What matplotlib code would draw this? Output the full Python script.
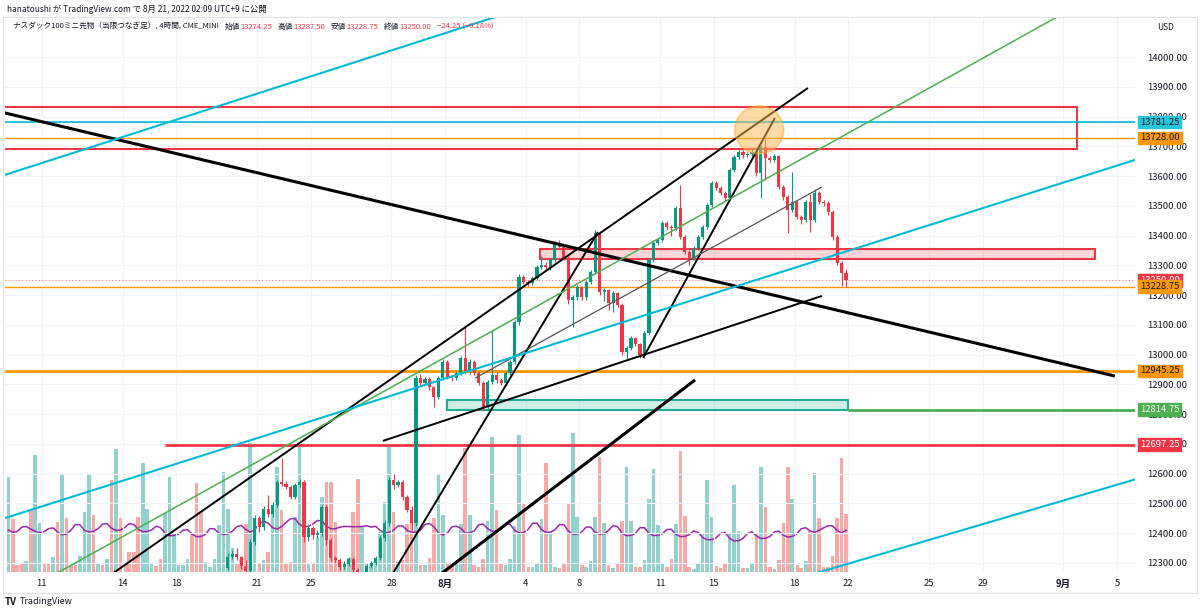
import numpy as np
import pandas as pd
import matplotlib
matplotlib.use("Agg")
import matplotlib.pyplot as plt
from matplotlib.patches import Rectangle, Ellipse

plt.rcParams['font.family'] = ['Noto Sans CJK JP', 'DejaVu Sans']

# ナスダック100ミニ先物 4時間足 (bar index 0 = 7/7)
opens = [12010, 12060, 12030, 12020, 12005, 12015, 11950, 11990, 12010, 11990,
         11980, 11985, 11920, 11940, 11880, 11870, 11860, 11870, 11900, 11950,
         11860, 11870, 11860, 11870, 11700, 11800, 11760, 11750, 11720, 11680,
         11600, 11700, 11760, 11770, 11760, 11740, 11800, 11900, 11960, 11970,
         11980, 11990, 11970, 11940, 11920, 11930, 11950, 11980, 12100, 12283,
         12320, 12330, 12320, 12290, 12272, 12370, 12450, 12420, 12480, 12465,
         12495, 12572, 12566, 12556, 12522, 12562, 12572, 12387, 12418, 12394,
         12400, 12488, 12377, 12317, 12310, 12286, 12297, 12313, 12276, 12240,
         12255, 12290, 12300, 12317, 12384, 12434, 12579, 12562, 12572, 12522,
         12478, 12434, 12921, 12905, 12918, 12891, 12858, 12921, 12975, 12925,
         12921, 12938, 12988, 12942, 12975, 12938, 12905, 12824, 12908, 12932,
         12915, 12905, 12938, 12975, 13110, 13261, 13244, 13240, 13257, 13294,
         13301, 13294, 13318, 13375, 13362, 13325, 13184, 13194, 13227, 13193,
         13244, 13278, 13408, 13210, 13217, 13173, 13207, 13167, 13009, 13022,
         13056, 13035, 12999, 13073, 13318, 13375, 13385, 13442, 13429, 13425,
         13493, 13395, 13345, 13325, 13358, 13395, 13429, 13503, 13575, 13560,
         13543, 13526, 13620, 13664, 13681, 13670, 13674, 13681, 13610, 13698,
         13661, 13654, 13667, 13563, 13530, 13486, 13513, 13462, 13452, 13513,
         13452, 13543, 13513, 13509, 13479, 13395, 13308, 13274.25]
closes = [12060, 12030, 12020, 12005, 12015, 11950, 11990, 12010, 11990, 11980,
          11985, 11920, 11940, 11880, 11870, 11860, 11870, 11900, 11950, 11860,
          11870, 11860, 11870, 11700, 11800, 11760, 11750, 11720, 11680, 11600,
          11700, 11760, 11770, 11760, 11740, 11800, 11900, 11960, 11970, 11980,
          11990, 11970, 11940, 11920, 11930, 11950, 11980, 12100, 12250, 12320,
          12330, 12320, 12290, 12272, 12370, 12450, 12420, 12480, 12465, 12495,
          12572, 12566, 12556, 12522, 12562, 12572, 12387, 12418, 12394, 12400,
          12488, 12377, 12317, 12310, 12286, 12297, 12313, 12276, 12240, 12255,
          12290, 12300, 12317, 12384, 12434, 12579, 12562, 12572, 12522, 12478,
          12434, 12921, 12905, 12918, 12891, 12858, 12921, 12975, 12925, 12921,
          12938, 12988, 12942, 12975, 12938, 12905, 12824, 12908, 12932, 12915,
          12905, 12938, 12975, 13110, 13261, 13244, 13240, 13257, 13294, 13301,
          13294, 13318, 13375, 13362, 13325, 13184, 13194, 13227, 13193, 13244,
          13278, 13408, 13210, 13217, 13173, 13207, 13167, 13009, 13022, 13056,
          13035, 12999, 13073, 13318, 13375, 13385, 13442, 13429, 13425, 13493,
          13395, 13345, 13325, 13358, 13395, 13429, 13503, 13575, 13560, 13543,
          13526, 13620, 13664, 13681, 13670, 13674, 13681, 13610, 13698, 13661,
          13654, 13667, 13563, 13530, 13486, 13513, 13462, 13452, 13513, 13452,
          13543, 13513, 13509, 13479, 13395, 13308, 13274.25, 13250]
highs = [12075, 12070, 12040, 12030, 12025, 12030, 12010, 12030, 12020, 12000,
         11995, 11995, 11970, 11960, 11890, 11880, 11880, 11910, 11980, 11960,
         11880, 11880, 11880, 11880, 11830, 11810, 11770, 11760, 11730, 11690,
         11720, 11780, 11780, 11780, 11770, 11810, 11920, 11970, 11980, 11990,
         12000, 12000, 11990, 11950, 11940, 11960, 11990, 12110, 12260, 12335,
         12345, 12350, 12325, 12310, 12380, 12462, 12458, 12490, 12528, 12505,
         12580, 12651, 12575, 12562, 12570, 12582, 12580, 12430, 12425, 12410,
         12495, 12495, 12385, 12325, 12318, 12305, 12320, 12320, 12282, 12262,
         12296, 12306, 12322, 12392, 12445, 12590, 12600, 12580, 12578, 12530,
         12490, 12930, 12935, 12925, 12925, 12895, 12928, 12985, 12982, 12932,
         12945, 12995, 13098, 12985, 12982, 12945, 12912, 12915, 13084, 12940,
         12922, 12945, 12982, 13118, 13270, 13268, 13252, 13265, 13300, 13330,
         13310, 13325, 13382, 13385, 13368, 13332, 13200, 13235, 13232, 13250,
         13285, 13418, 13415, 13225, 13222, 13215, 13212, 13172, 13030, 13062,
         13060, 13040, 13080, 13325, 13385, 13392, 13450, 13450, 13435, 13500,
         13570, 13402, 13350, 13365, 13402, 13436, 13510, 13582, 13582, 13566,
         13550, 13627, 13672, 13690, 13688, 13682, 13690, 13688, 13705, 13725,
         13668, 13674, 13672, 13570, 13536, 13614, 13520, 13470, 13520, 13540,
         13556, 13550, 13520, 13515, 13485, 13402, 13315, 13287.5]
lows = [12000, 12020, 12010, 11995, 11995, 11940, 11920, 11980, 11980, 11970,
        11970, 11910, 11880, 11860, 11860, 11850, 11850, 11860, 11880, 11840,
        11850, 11850, 11850, 11680, 11660, 11740, 11740, 11710, 11670, 11580,
        11590, 11690, 11750, 11750, 11730, 11730, 11790, 11890, 11950, 11960,
        11970, 11960, 11920, 11900, 11910, 11920, 11940, 11970, 12090, 12275,
        12312, 12310, 12280, 12262, 12265, 12360, 12405, 12410, 12455, 12455,
        12488, 12560, 12548, 12515, 12515, 12555, 12370, 12375, 12380, 12385,
        12392, 12360, 12305, 12300, 12278, 12280, 12290, 12268, 12230, 12225,
        12248, 12282, 12294, 12310, 12375, 12425, 12550, 12555, 12510, 12470,
        12410, 12425, 12898, 12898, 12880, 12824, 12850, 12915, 12918, 12912,
        12915, 12930, 12935, 12935, 12930, 12898, 12815, 12815, 12900, 12905,
        12898, 12898, 12930, 12968, 13100, 13236, 13232, 13233, 13250, 13288,
        13280, 13285, 13310, 13355, 13318, 13170, 13093, 13185, 13185, 13185,
        13238, 13270, 13200, 13180, 13150, 13143, 13160, 13000, 12985, 13015,
        13028, 12990, 12990, 13065, 13310, 13368, 13378, 13420, 13400, 13418,
        13388, 13338, 13300, 13318, 13350, 13388, 13422, 13496, 13552, 13536,
        13515, 13518, 13612, 13656, 13662, 13664, 13666, 13600, 13526, 13587,
        13646, 13648, 13555, 13520, 13408, 13478, 13455, 13440, 13445, 13412,
        13445, 13505, 13500, 13470, 13385, 13300, 13232, 13228.75]
volumes = [95, 53, 7, 9, 11, 63, 117, 49, 9, 8,
           15, 50, 97, 54, 7, 7, 16, 60, 98, 57,
           9, 7, 13, 92, 123, 54, 7, 20, 20, 55,
           109, 63, 9, 6, 13, 59, 95, 38, 7, 7,
           13, 38, 89, 61, 10, 5, 13, 47, 100, 63,
           24, 9, 13, 48, 129, 53, 8, 12, 20, 60,
           105, 62, 8, 10, 55, 128, 62, 9, 8, 35,
           75, 90, 90, 50, 10, 8, 14, 60, 93, 45,
           8, 6, 10, 40, 70, 125, 60, 10, 12, 48,
           50, 105, 7, 7, 14, 54, 98, 57, 8, 6,
           8, 48, 124, 57, 7, 5, 13, 51, 135, 62,
           8, 7, 13, 46, 137, 69, 5, 5, 9, 53,
           109, 40, 5, 4, 8, 69, 139, 55, 7, 5,
           11, 55, 115, 49, 7, 4, 8, 51, 105, 51,
           5, 5, 12, 73, 103, 47, 8, 5, 13, 48,
           121, 56, 5, 3, 9, 38, 92, 55, 6, 4,
           9, 38, 87, 41, 4, 4, 9, 39, 105, 65,
           5, 3, 12, 49, 105, 73, 7, 4, 11, 41,
           99, 54, 5, 5, 16, 54, 114, 58]

# 日付ラベル (各取引日 = 6本)
tick_dates = ['2022-07-11', '2022-07-14', '2022-07-18', '2022-07-21', '2022-07-25',
              '2022-07-28', '2022-08-01', '2022-08-04', '2022-08-08', '2022-08-11',
              '2022-08-15', '2022-08-18', '2022-08-22', '2022-08-25', '2022-08-29',
              '2022-09-01', '2022-09-05']
tick_labels = ['11', '14', '18', '21', '25', '28', '8月', '4', '8', '11',
               '15', '18', '22', '25', '29', '9月', '5']

# 水平ライン: (価格, 色, 太さ, 開始bar)
levels = [(13781.25, '#00bcd4', 1.2, -5),
          (13728.00, '#ff9800', 1.0, -5),
          (13228.75, '#ff9800', 1.0, -5),
          (12945.25, '#ff9800', 2.0, -5),
          (12814.75, '#4caf50', 2.0, 187.4),
          (12697.25, '#f23645', 2.0, 35)]

# トレンドライン: (bar0, 価格0, bar1, 価格1, 色, 太さ)
trendlines = [(-3, 13820, 247, 12928, '#000000', 2.2),
              (20, 12230, 178.5, 13896, '#000000', 1.4),
              (84.5, 12231, 131.6, 13412, '#000000', 1.4),
              (141.7, 12989, 171.1, 13795, '#000000', 1.4),
              (83.6, 12710, 181.6, 13197, '#000000', 1.4),
              (95, 12245, 153.3, 12915, '#000000', 2.2),
              (104.2, 12921, 181.6, 13563, '#555555', 0.9),
              (10.9, 12266, 240, 14184, '#4caf50', 1.1),
              (-3, 12440, 255, 13671, '#00bcd4', 1.5),
              (-3, 13593, 115, 14165, '#00bcd4', 1.5),
              (179, 12260, 255, 12596, '#00bcd4', 1.5)]

# 四角形: (bar0, bar1, 下, 上, 枠色, 塗り, 透明度)
boxes = [(-3, 238.5, 13691, 13832, '#f23645', 'none', 0.0),
         (118.7, 242.6, 13321, 13355, '#f23645', '#f23645', 0.2),
         (97.9, 187.4, 12814.75, 12849, '#22ab94', '#22ab94', 0.2)]

# 右側の価格ラベル
price_tags = [(13781.25, '#26c6da', '#131722'),
              (13728.00, '#ff9800', '#131722'),
              (13250.00, '#f23645', 'white'),
              (13228.75, '#ff9800', '#131722'),
              (12945.25, '#ff9800', '#131722'),
              (12814.75, '#4caf50', 'white'),
              (12697.25, '#f23645', 'white')]

up_c, dn_c = '#089981', '#f23645'
W, H = 1200, 614

fig = plt.figure(figsize=(W / 100, H / 100), dpi=100)
rect = [5 / W, 1 - 572 / H, 1130 / W, 555 / H]
ax_v = fig.add_axes(rect)
ax = fig.add_axes(rect, sharex=ax_v)
ax.patch.set_alpha(0)

n = len(closes)
idx = np.arange(n)
o = np.array(opens)
c = np.array(closes)
up = c >= o

# 出来高 + 移動平均
vol = pd.Series(volumes, dtype=float)
vol_ma = vol.rolling(20, min_periods=1, center=True).mean()
ax_v.bar(idx, vol, width=0.8, color=np.where(up, '#92d2cc', '#f7a9a7'), zorder=1)
ax_v.plot(idx, vol_ma, color='#9c27b0', lw=1.1, zorder=2)
ax_v.set_ylim(0, 555)
ax_v.set_yticks([])
for s in ax_v.spines.values():
    s.set_visible(False)

xmin, xmax = -0.74, 251.5
ax.set_xlim(xmin, xmax)
ax.set_ylim(12269.6, 14134.4)

# グリッド
grid_prices = np.arange(12300, 14001, 100)
tick_pos = 7.5 + 6 * np.busday_count('2022-07-11', tick_dates)
for p in grid_prices:
    ax.axhline(p, color='#f0f3fa', lw=0.8, zorder=0)
for t in tick_pos:
    ax.axvline(t, color='#f0f3fa', lw=0.8, zorder=0)

# 四角形
for b0, b1, lo, hi, ec, fc, a in boxes:
    if fc != 'none':
        ax.add_patch(Rectangle((b0, lo), b1 - b0, hi - lo, fc=fc, ec='none', alpha=a, zorder=2))
    ax.add_patch(Rectangle((b0, lo), b1 - b0, hi - lo, fc='none', ec=ec, lw=1.5, zorder=2))

# 水平ライン
for p, col, lw, start in levels:
    ax.hlines(p, start, xmax + 5, color=col, lw=lw, zorder=2)
ax.axhline(closes[-1], color='#f23645', lw=0.8, ls=(0, (1, 2)), alpha=0.7, zorder=2)

# ローソク足
colors = np.where(up, up_c, dn_c)
ax.vlines(idx, lows, highs, color=colors, lw=0.8, zorder=3)
body = np.where(np.abs(c - o) < 2, 2, c - o)
ax.bar(idx, body, bottom=o, width=0.7, color=colors, zorder=3)

# トレンドライン
for b0, p0, b1, p1, col, lw in trendlines:
    ax.plot([b0, b1], [p0, p1], color=col, lw=lw, zorder=4, solid_capstyle='butt')

# 丸
ax.add_patch(Ellipse((167.6, 13755), 10.9, 161, fc='#ffb74d', ec='#ffa726', alpha=0.5, lw=1.2, zorder=5))

# 軸
for s in ax.spines.values():
    s.set_visible(False)
ax.yaxis.tick_right()
ax.set_yticks(grid_prices)
ax.set_yticklabels([f'{p:.2f}' for p in grid_prices], fontsize=6.8, color='#131722')
ax.tick_params(axis='y', length=0, pad=9)
ax.set_xticks(tick_pos)
ax.set_xticklabels(tick_labels, fontsize=6.8, color='#131722')
for lab in ax.get_xticklabels():
    if '月' in lab.get_text():
        lab.set_fontweight('bold')
ax.tick_params(axis='x', length=0, pad=5)
plt.setp(ax_v.get_xticklabels(), visible=False)
ax_v.tick_params(axis='x', length=0)

for p, bg, fg in price_tags:
    ax.annotate(f'{p:.2f}', xy=(1.0045, p), xycoords=('axes fraction', 'data'),
                ha='left', va='center', fontsize=6.8, color=fg, zorder=10,
                bbox=dict(boxstyle='square,pad=0.2', fc=bg, ec=bg), annotation_clip=False)

# 枠
fig.add_artist(Rectangle((3 / W, 1 - 593 / H), 1194 / W, 576 / H, transform=fig.transFigure,
                         fill=False, ec='#e0e3eb', lw=0.8))
fig.text(1165 / W, 1 - 27 / H, 'USD', fontsize=6, color='#131722', ha='center', va='center')

# 見出し
fig.text(7 / W, 1 - 9 / H, 'hanatoushi が TradingView.com で 8月 21, 2022 02:09 UTC+9 に公開',
         fontsize=6, color='#131722', va='center')

renderer = fig.canvas.get_renderer()


def put(x_px, s, col, size=5.5):
    t = fig.text(x_px / W, 1 - 27 / H, s, fontsize=size, color=col, va='center')
    return t.get_window_extent(renderer=renderer).x1 * 100 / fig.dpi


chg = closes[-1] - opens[-1]
x = put(13, 'ナスダック100ミニ先物（当限つなぎ足）, 4時間, CME_MINI', '#131722')
for name, val in [('始値', opens[-1]), ('高値', highs[-1]), ('安値', lows[-1]), ('終値', closes[-1])]:
    x = put(x + 6, name, '#131722')
    x = put(x, f'{val:.2f}', '#f23645')
put(x + 6, f'−{abs(chg):.2f} (−{abs(chg) / opens[-1] * 100:.2f}%)', '#f23645')

fig.text(5 / W, 1 - 602 / H, 'TV', fontsize=7, fontweight='bold', color='#131722', va='center')
fig.text(20 / W, 1 - 602 / H, 'TradingView', fontsize=6.5, color='#131722', va='center')

fig.savefig('out.png', dpi=100)
